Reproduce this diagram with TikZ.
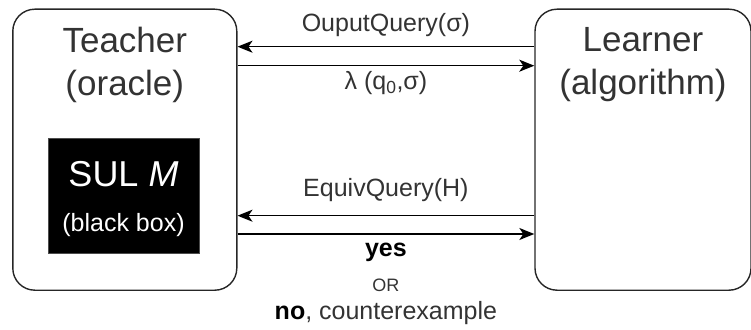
\documentclass[tikz,border=0pt]{standalone}
\usepackage{fontspec}
\setmainfont{Liberation Sans}
\usepackage{tikz}
\usetikzlibrary{arrows.meta}
\usetikzlibrary{positioning}
\tikzset{>={Stealth[length=15pt, width=12pt, inset=4pt]}}
\definecolor{txtgray}{RGB}{51,51,51}

\begin{document}
\begin{tikzpicture}[x=1pt, y=1pt, line width=1.4pt,
    party/.style={draw=black!85, rounded corners=22pt, minimum width=224pt, minimum height=281pt, inner sep=0pt},
    title/.style={text=txtgray, font=\fontsize{35}{43}\selectfont, align=center, anchor=north, inner sep=0pt},
    msg/.style={text=txtgray, font=\fontsize{25}{30}\selectfont, anchor=base, inner sep=0pt}]
    \useasboundingbox (0, 0) rectangle (751, 329);
    \node[party](teacher) at (124.8, 179.3) {};
    \node[party, minimum width=216pt](learner) at (643, 179.3) {};
    \node[title](teachertitle) at ([yshift=-18pt]teacher.north) {Teacher\\(oracle)};
    \node[title](learnertitle) at ([yshift=-18pt]learner.north) {Learner\\(algorithm)};
    \node[fill=black, draw=black!70, line width=1pt, minimum width=151pt, minimum height=115pt](sul) at (123.5, 132.5) {};
    \node[text=white, font=\fontsize{36}{43}\selectfont, anchor=base, inner sep=0pt](sulname) at ([yshift=9.5pt]sul.center) {SUL \textit{M}};
    \node[text=white, font=\fontsize{25}{30}\selectfont, anchor=base, inner sep=0pt](sulnote) at ([yshift=-35.5pt]sul.center) {(black box)};
    \draw[->] ([yshift=103pt]learner.west) -- ([yshift=103pt]teacher.east) node[msg, midway, yshift=15pt](outq){OuputQuery(σ)};
    \draw[->] ([yshift=84pt]teacher.east) -- ([yshift=84pt]learner.west) node[msg, midway, yshift=-24.3pt](lambda){λ (q\textsubscript{0},σ)};
    \draw[->] ([yshift=-66pt]learner.west) -- ([yshift=-66pt]teacher.east) node[msg, midway, yshift=18.7pt](eqq){EquivQuery(H)};
    \draw[->] ([yshift=-84.3pt]teacher.east) -- ([yshift=-84.3pt]learner.west) node[msg, midway, anchor=north, align=center, yshift=-8pt](answer){\textbf{\textcolor{black}{yes}}\\[5pt]{\fontsize{18}{22}\selectfont OR}\\[-2pt]\textbf{\textcolor{black}{no}}, counterexample};
\end{tikzpicture}
\end{document}
